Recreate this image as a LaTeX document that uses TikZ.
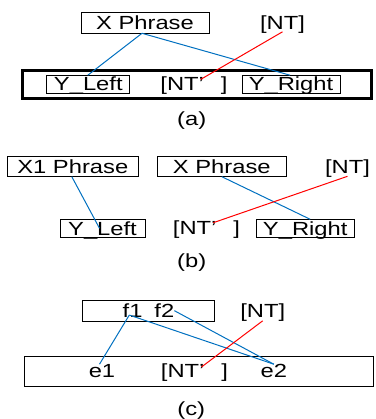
\documentclass[tikz,border=0pt]{standalone}
\usepackage{fontspec}
\setmainfont[FakeStretch=1.25]{Liberation Sans}
\usetikzlibrary{calc}
\definecolor{linkblue}{RGB}{0,112,192}
\begin{document}
\begin{tikzpicture}[x=1pt,y=-1pt,
  every node/.style={font=\fontsize{19}{22}\selectfont, inner sep=0pt, outer sep=0pt, text height=13.6pt, text depth=0pt},
  wbox/.style={draw, line width=0.9pt},
  bigthick/.style={draw, line width=2.5pt},
  bigthin/.style={draw, line width=0.9pt},
  align link/.style={draw=linkblue, line width=1pt},
  nt link/.style={draw=red, line width=1pt}]
\useasboundingbox (0,0) rectangle (375,419);

% ---------- (a) ----------
\node[wbox, minimum width=128pt, minimum height=21pt] (xa) at (145,22.8) {X Phrase};
\node (nta) at (282.5,22.5) {[NT]};
\node[bigthick, minimum width=349pt, minimum height=28.3pt] (ba) at (197,84.6) {};
\node[wbox, minimum width=83pt, minimum height=18pt] (yla) at (88.3,84.2) {Y\_Left};
\node (nt2a) at (194,84) {[NT’\hspace{17pt}]};
\node[wbox, minimum width=98pt, minimum height=18pt] (yra) at (291,84.2) {Y\_Right};
\node (la) at (191.7,118.7) {(a)};
\draw[align link] ([xshift=-3pt]xa.south) -- ([xshift=-0.5pt]yla.north);
\draw[align link] ([xshift=-3pt]xa.south) -- ([xshift=-1pt]yra.north);
\draw[nt link] ([yshift=-2.5pt]nta.south) -- ($(nt2a.center)+(6.5,-4.5)$);

% ---------- (b) ----------
\node[wbox, minimum width=131pt, minimum height=20pt] (x1b) at (72.8,166.7) {X1 Phrase};
\node[wbox, minimum width=129.7pt, minimum height=20pt] (xb) at (221.8,166.7) {X Phrase};
\node (ntb) at (347.5,167) {[NT]};
\node[wbox, minimum width=85pt, minimum height=18pt] (ylb) at (102.5,228.3) {Y\_Left};
\node (nt2b) at (206.5,228) {[NT’\hspace{17pt}]};
\node[wbox, minimum width=98.3pt, minimum height=18pt] (yrb) at (305.2,228.3) {Y\_Right};
\node (lb) at (191.7,260.7) {(b)};
\draw[align link] ([xshift=-1pt]x1b.south) -- ($(ylb.center)+(-3,0)$);
\draw[align link] (xb.south) -- ([xshift=5pt]yrb.north);
\draw[nt link] ([yshift=-2.5pt]ntb.south) -- ($(nt2b.center)+(6.8,-5.3)$);

% ---------- (c) ----------
\node[wbox, minimum width=131.6pt, minimum height=20.3pt] (fc) at (148.5,310.85) {f1\hspace{12pt}f2};
\node (ntc) at (262.7,311) {[NT]};
\node[bigthin, minimum width=349pt, minimum height=29.3pt] (bc) at (198.5,371.35) {};
\node (e1) at (102,371) {e1};
\node (nt2c) at (194.5,371) {[NT’\hspace{17pt}]};
\node (e2) at (273.8,371) {e2};
\node (lc) at (191.2,408.2) {(c)};
\draw[align link] ($(fc.center)+(-19.2,4.2)$) -- ([xshift=-2.5pt]e1.north);
\draw[align link] ($(fc.center)+(-19.2,4.2)$) -- (e2.north);
\draw[align link] ($(fc.center)+(25.8,-0.2)$) -- (e2.north);
\draw[nt link] ([yshift=-3pt]ntc.south) -- ($(nt2c.center)+(7,-4)$);
\end{tikzpicture}
\end{document}
